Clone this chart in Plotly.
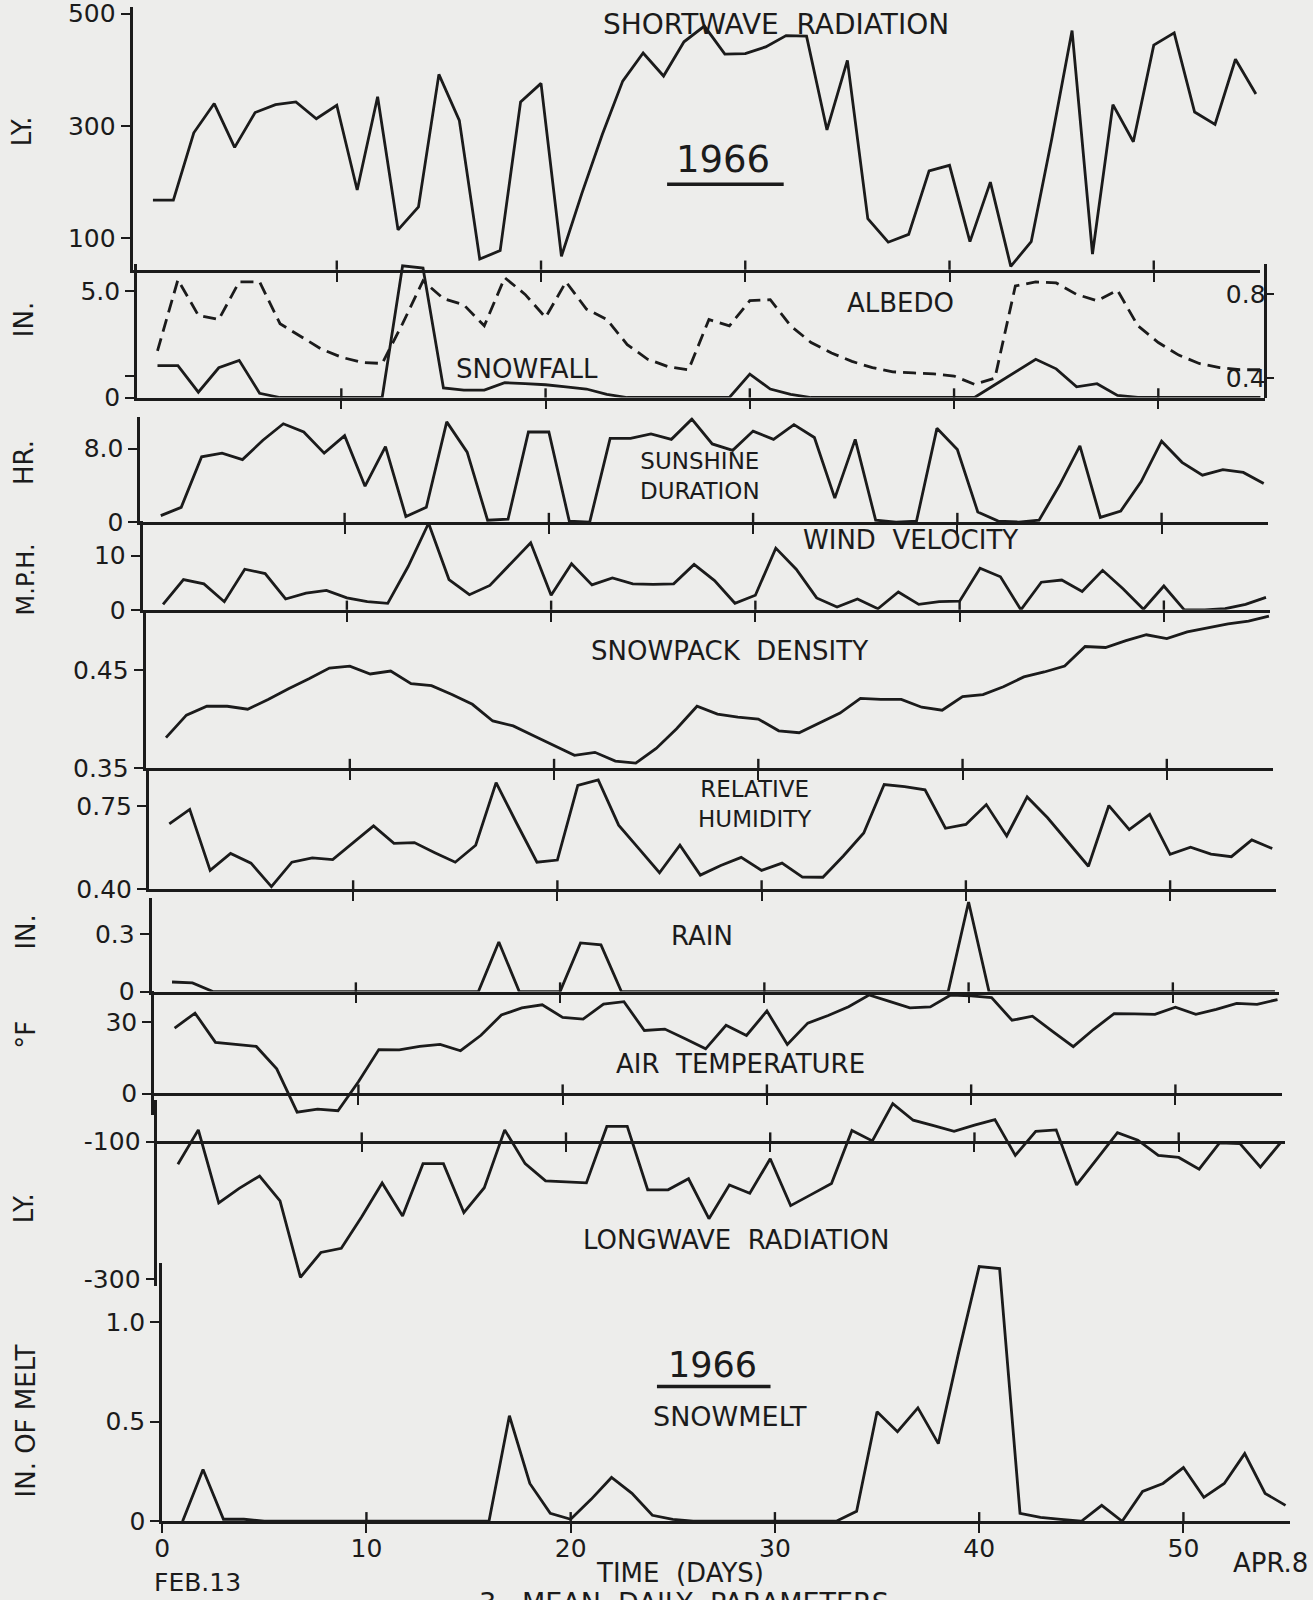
import plotly.graph_objects as go

# ---------------- data (days after Feb 13, 1966) ----------------
days = list(range(1, 56))

shortwave = [168, 168, 288, 340, 262, 324, 338, 343, 313, 337,
             186, 352, 115, 156, 392, 310, 63, 78, 343, 376,
             68, 180, 285, 380, 430, 389, 450, 478, 428, 429,
             441, 461, 460, 293, 417, 135, 93, 107, 220, 230,
             94, 200, 50, 94, 276, 470, 72, 338, 272, 444,
             466, 325, 303, 419, 357]

snowfall = [1.5, 1.5, 0.25, 1.4, 1.75, 0.2, 0, 0, 0, 0,
            0, 0, 6.2, 6.1, 0.45, 0.35, 0.35, 0.7, 0.65, 0.6,
            0.5, 0.4, 0.15, 0, 0, 0, 0, 0, 0, 1.1,
            0.4, 0.15, 0, 0, 0, 0, 0, 0, 0, 0,
            0, 0.6, 1.2, 1.8, 1.35, 0.5, 0.65, 0.1, 0, 0,
            0, 0, 0, 0, 0]

albedo = [0.53, 0.87, 0.70, 0.68, 0.86, 0.86, 0.66, 0.60, 0.54, 0.50,
          0.475, 0.47, 0.66, 0.865, 0.78, 0.75, 0.65, 0.88, 0.80, 0.69,
          0.86, 0.73, 0.68, 0.56, 0.49, 0.455, 0.44, 0.68, 0.65, 0.77,
          0.775, 0.65, 0.57, 0.52, 0.48, 0.45, 0.43, 0.425, 0.42, 0.41,
          0.37, 0.40, 0.84, 0.86, 0.855, 0.80, 0.77, 0.82, 0.65, 0.57,
          0.51, 0.47, 0.45, 0.44, 0.44]

sunshine = [0.7, 1.6, 7.1, 7.5, 6.8, 8.9, 10.7, 9.8, 7.5, 9.4,
            3.9, 8.2, 0.6, 1.6, 10.9, 7.6, 0.2, 0.3, 9.8, 9.8,
            0.1, 0.0, 9.1, 9.1, 9.6, 9.0, 11.2, 8.5, 7.8, 9.9,
            9.0, 10.6, 9.2, 2.6, 9.0, 0.2, 0.0, 0.1, 10.2, 7.9,
            1.1, 0.1, 0.0, 0.2, 4.0, 8.3, 0.5, 1.2, 4.4, 8.8,
            6.5, 5.1, 5.7, 5.4, 4.2]

wind = [1.0, 5.6, 4.8, 1.5, 7.5, 6.7, 2.0, 3.1, 3.6, 2.2,
        1.5, 1.2, 8.0, 16.0, 5.6, 2.8, 4.5, 8.5, 12.4, 2.7,
        8.5, 4.6, 5.9, 4.8, 4.7, 4.8, 8.4, 5.4, 1.2, 2.7,
        11.4, 7.5, 2.2, 0.5, 2.0, 0.2, 3.3, 1.0, 1.5, 1.6,
        7.7, 6.1, 0.0, 5.1, 5.5, 3.4, 7.3, 3.9, 0.1, 4.4,
        0.0, 0.0, 0.2, 1.0, 2.3]

density = [0.381, 0.404, 0.413, 0.413, 0.410, 0.420, 0.431, 0.441, 0.452, 0.454,
           0.446, 0.449, 0.436, 0.434, 0.425, 0.415, 0.398, 0.393, 0.383, 0.373,
           0.363, 0.366, 0.357, 0.355, 0.370, 0.390, 0.413, 0.405, 0.402, 0.400,
           0.388, 0.386, 0.396, 0.406, 0.421, 0.420, 0.420, 0.412, 0.409, 0.423,
           0.425, 0.433, 0.443, 0.448, 0.454, 0.474, 0.473, 0.480, 0.486, 0.482,
           0.489, 0.493, 0.497, 0.500, 0.505]

humidity = [0.674, 0.735, 0.48, 0.551, 0.51, 0.412, 0.514, 0.532, 0.525, 0.595,
            0.666, 0.593, 0.596, 0.554, 0.514, 0.585, 0.847, 0.678, 0.514, 0.523,
            0.835, 0.858, 0.669, 0.57, 0.47, 0.585, 0.46, 0.50, 0.534, 0.48,
            0.51, 0.452, 0.451, 0.54, 0.636, 0.839, 0.83, 0.817, 0.656, 0.672,
            0.755, 0.624, 0.787, 0.70, 0.60, 0.497, 0.751, 0.65, 0.714, 0.547,
            0.577, 0.548, 0.537, 0.607, 0.571]

rain = [0.05, 0.045, 0, 0, 0, 0, 0, 0, 0, 0,
        0, 0, 0, 0, 0, 0, 0.26, 0, 0, 0,
        0.255, 0.245, 0, 0, 0, 0, 0, 0, 0, 0,
        0, 0, 0, 0, 0, 0, 0, 0, 0, 0.47,
        0, 0, 0, 0, 0, 0, 0, 0, 0, 0,
        0, 0, 0, 0, 0]

air_temp = [27.5, 33.8, 21.5, 20.5, 19.8, 10.4, -7.8, -6.5, -7.2, 5.0,
            18.5, 18.4, 19.8, 20.7, 18.0, 24.5, 33.0, 36.0, 37.3, 32.0,
            31.3, 37.6, 38.6, 26.5, 27.1, 23.0, 18.8, 28.7, 24.4, 34.7,
            20.6, 29.6, 32.8, 36.5, 41.4, 38.7, 36.0, 36.4, 41.4, 41.0,
            40.3, 30.8, 32.5, 26.0, 19.7, 27.0, 33.6, 33.5, 33.3, 36.3,
            33.3, 35.4, 37.9, 37.5, 39.5]

longwave = [-133, -83, -189, -168, -150, -186, -297, -261, -255, -209,
            -160, -208, -132, -132, -203, -167, -83, -132, -157, -158,
            -160, -78, -78, -170, -170, -154, -212, -163, -175, -125,
            -193, -177, -161, -84, -99, -45, -69, -77, -85, -76,
            -68, -120, -85, -83, -163, -125, -87, -98, -120, -123,
            -140, -102, -103, -137, -101]

snowmelt = [0, 0.26, 0.01, 0.01, 0, 0, 0, 0, 0, 0,
            0, 0, 0, 0, 0, 0, 0.53, 0.19, 0.04, 0.01,
            0.11, 0.22, 0.14, 0.03, 0.01, 0, 0, 0, 0, 0,
            0, 0, 0, 0.05, 0.55, 0.45, 0.57, 0.39, 0.85, 1.28,
            1.27, 0.04, 0.02, 0.01, 0, 0.08, 0, 0.15, 0.19, 0.27,
            0.12, 0.19, 0.34, 0.14, 0.08]

x_tick_days = [0, 10, 20, 30, 40, 50]
x_tick_labels = ["0", "10", "20", "30", "40", "50"]

# ---------------- layout configuration ----------------
INK = "#1b1b1b"
BG = "#ededeb"
FONT = "DejaVu Sans"
REF_H = 1568.0      # reference drawing height the pixel positions below refer to
FIG_W = 1313.0
LW = 2.8
TOP_PX = 6.4        # reference-pixel position of the figure's top edge

def fy(px):
    # vertical placement calibrated against the rendered output
    p = (px - TOP_PX) / 0.986
    return min(1.0, max(0.0, 1 - p / REF_H))

panels = [
    dict(y=shortwave, ref=((100, 233), (500, 13)), rng=(44, 514),
         tv=[100, 300, 500], tt=["100", "300", "500"], base=44),
    dict(y=snowfall, ref=((0, 389), (5, 285)), rng=(0, 6.3),
         tv=[0, 1, 5], tt=["0", "", "5.0"], base=0),
    dict(y=sunshine, ref=((0, 511), (8, 439)), rng=(0, 11.4),
         tv=[0, 8], tt=["0", "8.0"], base=0),
    dict(y=wind, ref=((0, 597), (10, 544)), rng=(0, 16.4),
         tv=[0, 10], tt=["0", "10"], base=0),
    dict(y=density, ref=((0.35, 752), (0.45, 656)), rng=(0.35, 0.51),
         tv=[0.35, 0.45], tt=["0.35", "0.45"], base=0.35),
    dict(y=humidity, ref=((0.40, 871), (0.75, 789)), rng=(0.40, 0.90),
         tv=[0.40, 0.75], tt=["0.40", "0.75"], base=0.40),
    dict(y=rain, ref=((0, 971), (0.3, 915)), rng=(0, 0.49),
         tv=[0, 0.3], tt=["0", "0.3"], base=0),
    dict(y=air_temp, ref=((0, 1071), (30, 1001)), rng=(-9, 43),
         tv=[0, 30], tt=["0", "30"], base=0),
    dict(y=longwave, ref=((-100, 1118), (-300, 1253)), rng=(-310, -40),
         tv=[-300, -100], tt=["-300", "-100"], base=-100),
    dict(y=snowmelt, ref=((0, 1490), (1.0, 1295)), rng=(0, 1.3),
         tv=[0, 0.5, 1.0], tt=["0", "0.5", "1.0"], base=0),
]

X_RANGE = [0, 55.2]
X_WIDTH = 55.2 * 20.55      # full-size pixels

fig = go.Figure()
layout = dict(width=1313, height=1600, margin=dict(l=0, r=0, t=0, b=0),
              paper_bgcolor=BG, plot_bgcolor="rgba(0,0,0,0)", showlegend=False,
              font=dict(family=FONT, color=INK, size=24))
shapes = []
annotations = []
xdom_by_panel = {}

for i, s in enumerate(panels):
    k = i + 1
    sfx = "" if k == 1 else str(k)
    (v1, p1), (v2, p2) = s["ref"]

    def px(v, v1=v1, p1=p1, v2=v2, p2=p2):
        return p1 + (v - v1) * (p2 - p1) / (v2 - v1)

    def val(p, v1=v1, p1=p1, v2=v2, p2=p2):
        return v1 + (p - p1) * (v2 - v1) / (p2 - p1)

    lo, hi = s["rng"]
    plo, phi = px(lo), px(hi)
    if phi < TOP_PX:                 # keep the panel inside the figure
        phi = TOP_PX
        hi = val(phi)
    center = (plo + phi) / 2
    x0 = 122 + center * 0.0243
    xdom = [x0 / FIG_W, (x0 + X_WIDTH) / FIG_W]
    xdom_by_panel[k] = (xdom, px, plo, phi)
    pbase = px(s["base"])
    bottom = (k == len(panels))

    xa = dict(domain=xdom, range=X_RANGE, showline=True, linecolor=INK, linewidth=LW,
              showgrid=False, zeroline=False, ticks="outside", ticklen=9, tickwidth=2.4,
              tickcolor=INK, tickvals=x_tick_days if bottom else x_tick_days[1:],
              ticktext=x_tick_labels if bottom else x_tick_labels[1:],
              showticklabels=bottom, ticklabelstandoff=-6, ticklabeloverflow="allow",
              tickfont=dict(size=25, color=INK))
    if s["base"] == lo:
        xa["anchor"] = "y" + sfx
    else:
        xa["anchor"] = "free"
        xa["position"] = fy(pbase)
    layout["xaxis" + sfx] = xa

    layout["yaxis" + sfx] = dict(domain=[fy(plo), fy(phi)], range=[lo, hi], anchor="x" + sfx,
                                 showline=True, linecolor=INK, linewidth=LW, showgrid=False,
                                 zeroline=False, ticks="outside", ticklen=9, tickwidth=2.4,
                                 tickcolor=INK, tickvals=s["tv"], ticktext=s["tt"],
                                 ticklabeloverflow="allow",
                                 tickfont=dict(size=25, color=INK))

    fig.add_trace(go.Scatter(x=days, y=s["y"], mode="lines", xaxis="x" + sfx, yaxis="y" + sfx,
                             line=dict(color=INK, width=LW), hoverinfo="skip"))

    # inner half of the crossing tick marks on each time baseline
    for t in x_tick_days[1:]:
        shapes.append(dict(type="line", xref="x" + sfx, yref="paper", x0=t, x1=t,
                           y0=fy(pbase), y1=fy(pbase - 9), line=dict(color=INK, width=2.4)))

# albedo on a right-hand axis over the snowfall panel
xdom2, px2, plo2, phi2 = xdom_by_panel[2]
alb_ref = ((0.4, 370), (0.8, 288))
(a1, q1), (a2, q2) = alb_ref
def alb_at(p):
    return a1 + (p - q1) * (a2 - a1) / (q2 - q1)
layout["yaxis11"] = dict(overlaying="y2", side="right", anchor="free", position=xdom2[1],
                         range=[alb_at(plo2), alb_at(phi2)], showline=True, linecolor=INK,
                         linewidth=LW, showgrid=False, zeroline=False, ticks="outside",
                         ticklen=8, tickwidth=2.4, tickcolor=INK, tickvals=[0.4, 0.8],
                         ticktext=["0.4", "0.8"], ticklabelposition="inside",
                         ticklabeloverflow="allow",
                         tickfont=dict(size=25, color=INK))
fig.add_trace(go.Scatter(x=days, y=albedo, mode="lines", xaxis="x2", yaxis="y11",
                         line=dict(color=INK, width=LW, dash="13px,7px"), hoverinfo="skip"))

# ---------------- text ----------------
def ann(text, x, y, size=26, angle=0, xanchor="center", yanchor="middle"):
    annotations.append(dict(text=text, x=x / 1287.0, y=fy(y), xref="paper", yref="paper",
                            showarrow=False, textangle=angle, xanchor=xanchor, yanchor=yanchor,
                            font=dict(family=FONT, size=size, color=INK)))

ann("SHORTWAVE  RADIATION", 757, 24, size=28)
ann("1966", 705, 156, size=37)
ann("ALBEDO", 880, 296)
ann("SNOWFALL", 512, 361)
ann("SUNSHINE<br>DURATION", 682, 466, size=23)
ann("WIND  VELOCITY", 890, 529)
ann("SNOWPACK  DENSITY", 712, 637)
ann("RELATIVE<br>HUMIDITY", 737, 787, size=23)
ann("RAIN", 684, 917)
ann("AIR  TEMPERATURE", 722, 1042)
ann("LONGWAVE  RADIATION", 718, 1214)
ann("1966", 695, 1337, size=35)
ann("SNOWMELT", 712, 1387, size=27)
ann("TIME  (DAYS)", 663, 1541, size=26)
ann("FEB.13", 187, 1550, size=25)
ann("APR.8", 1245, 1531, size=26)
ann("3.  MEAN  DAILY  PARAMETERS", 667, 1553, size=27, yanchor="top")

ann("LY.", 14, 128, angle=-90, size=26)
ann("IN.", 16, 313, angle=-90, size=26)
ann("HR.", 16, 453, angle=-90, size=26)
ann("M.P.H.", 18, 567, angle=-90, size=24)
ann("IN.", 18, 913, angle=-90, size=26)
ann("°F", 18, 1013, angle=-90, size=26)
ann("LY.", 16, 1183, angle=-90, size=26)
ann("IN. OF MELT", 18, 1392, angle=-90, size=26)

# underlines of the year labels
for (xa_, xb_, yy) in [(650, 765, 180), (640, 752, 1358)]:
    shapes.append(dict(type="line", xref="paper", yref="paper", x0=xa_ / 1287.0,
                       x1=xb_ / 1287.0, y0=fy(yy), y1=fy(yy), line=dict(color=INK, width=3.4)))

layout["shapes"] = shapes
layout["annotations"] = annotations
fig.update_layout(**layout)
fig.write_html("out.html", config={"displayModeBar": False},
               post_script="document.body.style.margin='0';document.body.style.background='%s';" % BG)
